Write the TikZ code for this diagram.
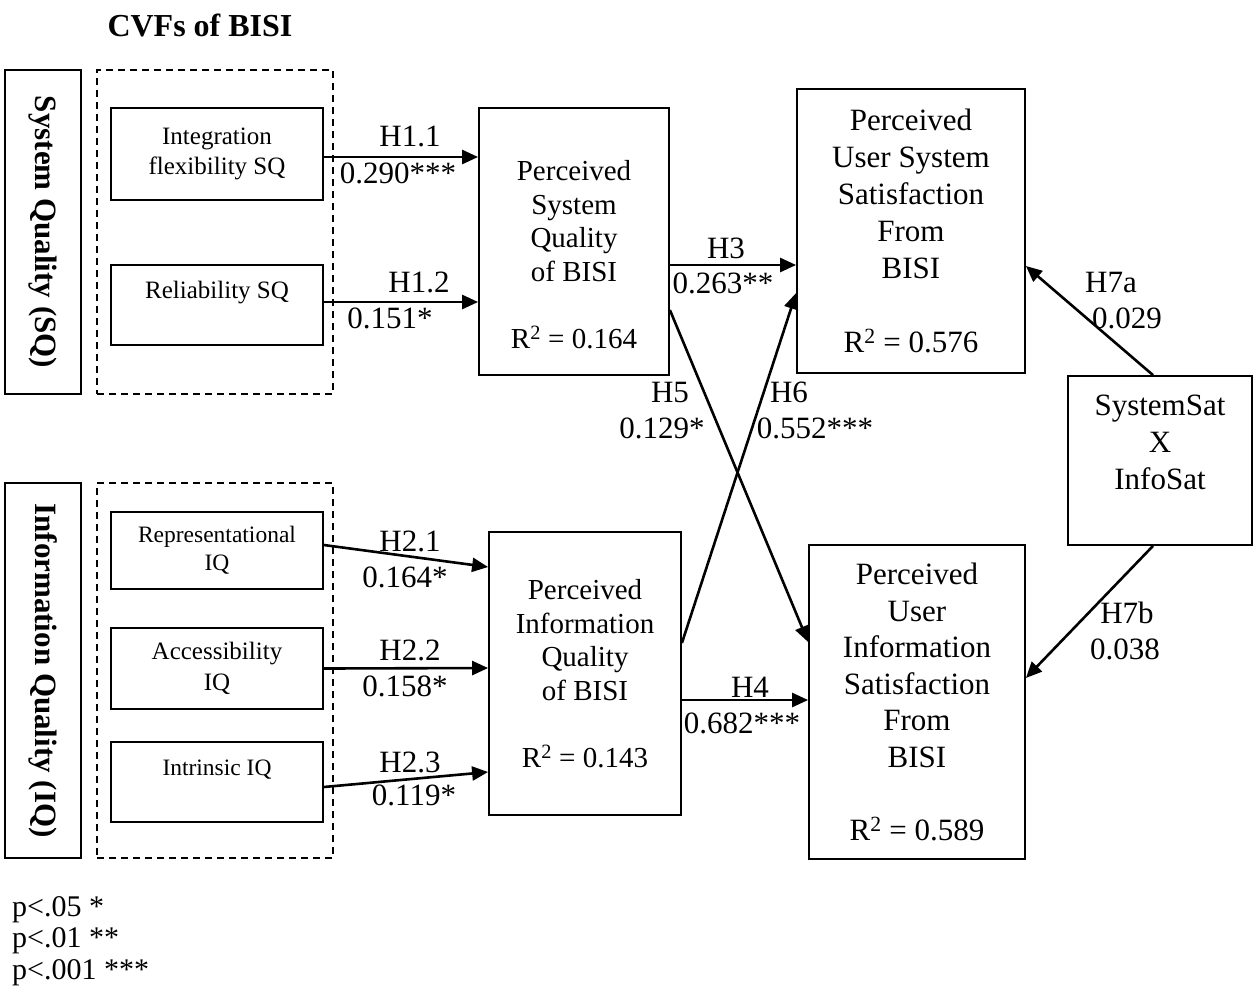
\documentclass[tikz,border=0pt]{standalone}
\usepackage{fontspec}
\setmainfont{Liberation Serif}
\usetikzlibrary{arrows.meta,positioning}
\newcommand{\bigfont}{\fontsize{31}{37}\selectfont}
\newcommand{\midfont}{\fontsize{29}{33.5}\selectfont}
\newcommand{\smallfont}{\fontsize{25}{30.5}\selectfont}
\newcommand{\tinyfont}{\fontsize{23.5}{28}\selectfont}

\begin{document}
\begin{tikzpicture}[x=1pt, y=-1pt,
    every node/.style={font=\bigfont, inner sep=0pt},
    box/.style={draw, line width=1.8pt, align=center},
    grp/.style={draw, line width=1.5pt, dash pattern=on 7pt off 5pt},
    side/.style={draw, line width=2.2pt, rotate=-90, font=\bigfont\bfseries, minimum height=76pt},
    arr/.style={-{Triangle[length=16pt,width=14pt]}, line width=2.6pt}]
  \useasboundingbox (0,0) rectangle (1257,1005);

  \node[font=\fontsize{32}{38}\selectfont\bfseries] (title) at (200,25) {CVFs of BISI};

  % construct groups
  \node[side, minimum width=324pt] (sqlab) at (43,232) {System Quality (SQ)};
  \node[side, minimum width=375pt] (iqlab) at (43,670.5) {Information Quality (IQ)};
  \node[grp, minimum width=236pt, minimum height=324pt] (sqgrp) at (215,232) {};
  \node[grp, minimum width=236pt, minimum height=375pt] (iqgrp) at (215,670.5) {};

  % first order factors
  \node[box, font=\smallfont, minimum width=212pt, minimum height=92pt] (ifs) at (217,154) {Integration\\flexibility SQ};
  \node[box, font=\smallfont, minimum width=212pt, minimum height=80pt] (rel) at (217,305) {Reliability SQ\\\mbox{}};
  \node[box, font=\tinyfont, minimum width=212pt, minimum height=77pt] (rep) at (217,550.5) {Representational\\IQ};
  \node[box, font=\smallfont, minimum width=212pt, minimum height=81pt] (acc) at (217,668.5) {Accessibility\\IQ};
  \node[box, font=\tinyfont, minimum width=212pt, minimum height=80pt] (intr) at (217,782) {Intrinsic IQ\\\mbox{}};

  % perceived quality and satisfaction
  \node[box, font=\midfont, minimum width=190pt, minimum height=267pt] (psq) at (574,241.5)
    {\rule{0pt}{46pt}Perceived\\System\\Quality\\of BISI\\\mbox{}\\R\textsuperscript{2} = 0.164};
  \node[box, font=\midfont, minimum width=192pt, minimum height=283pt] (piq) at (585,673.5)
    {Perceived\\Information\\Quality\\of BISI\\\mbox{}\\R\textsuperscript{2} = 0.143};
  \node[box, minimum width=228pt, minimum height=284pt] (puss) at (911,231)
    {Perceived\\User System\\Satisfaction\\From\\BISI\\\mbox{}\\R\textsuperscript{2} = 0.576};
  \node[box, font=\fontsize{31}{36.5}\selectfont, minimum width=216pt, minimum height=314pt] (puis) at (917,702)
    {Perceived\\User\\Information\\Satisfaction\\From\\BISI\\\mbox{}\\R\textsuperscript{2} = 0.589};
  \node[box, minimum width=184pt, minimum height=169pt] (sat) at (1160,460.5) {SystemSat\\X\\InfoSat\\\mbox{}};

  % paths
  \foreach \a/\da/\b/\db in {ifs.east/{(0,3)}/psq.west/{(0,-84.5)},
      rel.east/{(0,-3)}/psq.west/{(0,60.5)},
      rep.east/{(0,-5.5)}/piq.west/{(0,-106.5)},
      acc.east/{(0,0)}/piq.west/{(0,-5.5)},
      intr.east/{(0,5)}/piq.west/{(0,98.5)},
      psq.east/{(0,23.5)}/puss.west/{(0,34)},
      piq.east/{(0,26.5)}/puis.west/{(0,-2)},
      psq.east/{(0,68.5)}/puis.west/{(0,-60)},
      piq.east/{(0,-30.5)}/puss.west/{(0,62)},
      sat.north/{(-7,0)}/puss.east/{(0,35)},
      sat.south/{(-7,0)}/puis.east/{(0,-24)}}
    \draw[arr] ([shift={\da}]\a) -- ([shift={\db}]\b);

  % path labels
  \foreach \n/\x/\y/\t in {h11/410/136/H1.1, c11/398/173/0.290***,
      h12/419/282/H1.2, c12/390/318/0.151*,
      h21/410/541/H2.1, c21/405/577/0.164*,
      h22/410/650/H2.2, c22/405/686/0.158*,
      h23/410/762/H2.3, c23/414/795/0.119*,
      h3/726/248/H3, c3/723/283/0.263**,
      h4/750/687/H4, c4/742/723/0.682***,
      h5/670/392/H5, c5/662/428/0.129*,
      h6/789/392/H6, c6/815/428/0.552***,
      h7a/1111/282/H7a, c7a/1127/318/0.029,
      h7b/1127/613/H7b, c7b/1125/649/0.038}
    \node (\n) at (\x,\y) {\t};

  \node[anchor=north west, align=left, font=\fontsize{30}{31.5}\selectfont] (legend) at (12,896)
    {p<.05 *\\p<.01 **\\p<.001 ***};
\end{tikzpicture}
\end{document}
